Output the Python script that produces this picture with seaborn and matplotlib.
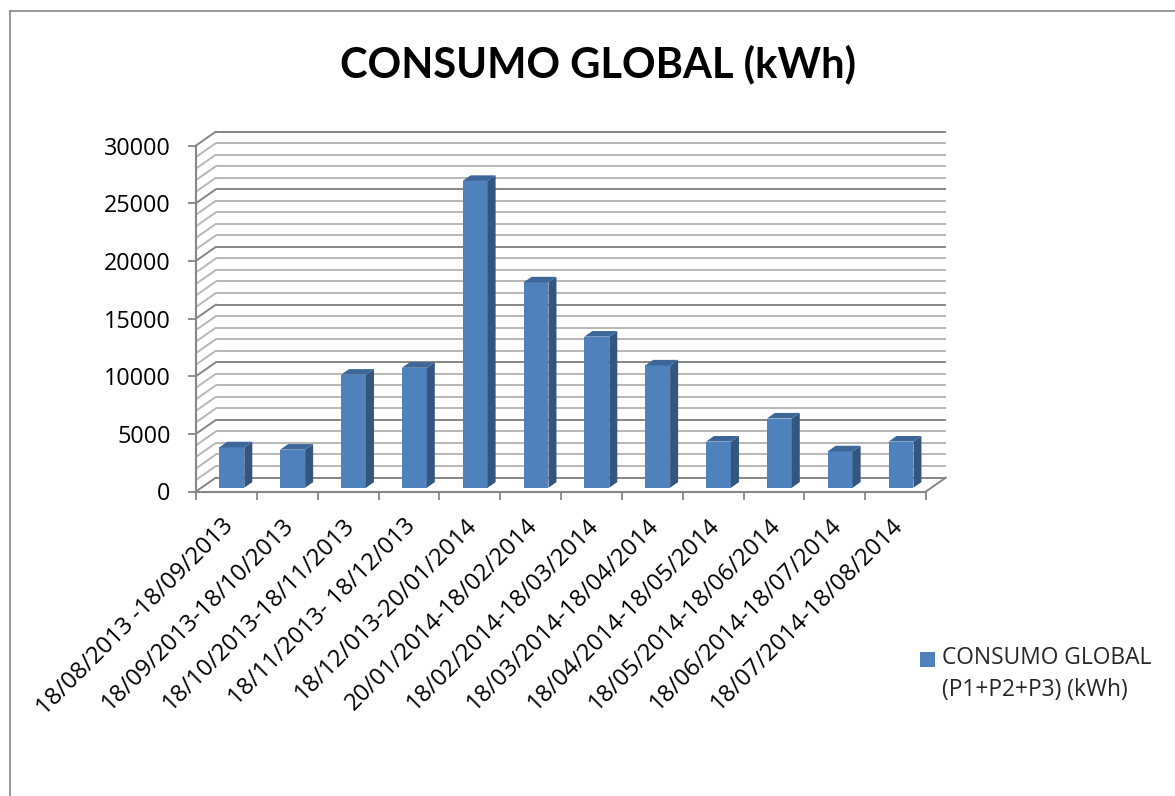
import numpy as np
import pandas as pd
import matplotlib
matplotlib.use("Agg")
import matplotlib.pyplot as plt
import matplotlib.transforms as mtrans
from matplotlib.patches import Polygon
from matplotlib.lines import Line2D
import seaborn as sns

# ---------------- data ----------------
periods = [
    "18/08/2013 -18/09/2013",
    "18/09/2013-18/10/2013",
    "18/10/2013-18/11/2013",
    "18/11/2013- 18/12/013",
    "18/12/013-20/01/2014",
    "20/01/2014-18/02/2014",
    "18/02/2014-18/03/2014",
    "18/03/2014-18/04/2014",
    "18/04/2014-18/05/2014",
    "18/05/2014-18/06/2014",
    "18/06/2014-18/07/2014",
    "18/07/2014-18/08/2014",
]
consumo = [3500, 3300, 9800, 10400, 26600, 17800, 13100, 10600, 4000, 6000, 3150, 4000]
y_ticks = [0, 5000, 10000, 15000, 20000, 25000, 30000]
y_minor_step = 1000
title = "CONSUMO GLOBAL (kWh)"
series_label = "CONSUMO GLOBAL\n(P1+P2+P3) (kWh)"

df = pd.DataFrame({"periodo": periods, "kwh": consumo})

# ---------------- style ----------------
sns.set_style("white")
plt.rcParams["font.family"] = ["Open Sans", "DejaVu Sans"]

W, H = 1175, 796
DPI = 100
fig = plt.figure(figsize=(W / DPI, H / DPI), dpi=DPI)
fig.patch.set_facecolor("white")

# front plane of the 3-D box (pixels)
L_px, R_px, T_px, B_px = 196, 926, 145.5, 491.5
ax = fig.add_axes([L_px / W, 1 - B_px / H, (R_px - L_px) / W, (B_px - T_px) / H])

FRONT = "#4F81BD"
SIDE = "#34557E"
TOP = "#3D6699"
AXIS_C = "#868686"
MINOR_C = "#B8B8B8"

sns.barplot(data=df, x="periodo", y="kwh", color=FRONT, width=0.41,
            saturation=1, ax=ax, label=series_label, zorder=3)

n = len(periods)
ymax = y_ticks[-1]
ax.set_xlim(-0.5, n - 0.5)
ax.set_ylim(0, ymax)

# depth offset in data units (box depth ~ 20px right, 14px up)
px_x = (R_px - L_px) / n
px_y = (B_px - T_px) / ymax
DXd = 20 / px_x
DYd = 14 / px_y
f0, f1 = 0.27, 0.67  # bar front / back depth fraction

# back wall + left wall gridlines
for v in range(0, ymax + 1, y_minor_step):
    major = v % 5000 == 0
    c = AXIS_C if major else MINOR_C
    lw = 1.4
    ax.plot([-0.5 + DXd, n - 0.5 + DXd], [v + DYd, v + DYd], color=c, lw=lw,
            clip_on=False, zorder=1, solid_capstyle="butt")
    ax.plot([-0.5, -0.5 + DXd], [v, v + DYd], color=c, lw=lw,
            clip_on=False, zorder=1)
# floor right edge
ax.plot([n - 0.5, n - 0.5 + DXd], [0, DYd], color=AXIS_C, lw=1.4, clip_on=False, zorder=1)

# 3-D bars: shift the front faces to their depth, add side and top faces
shift = mtrans.Affine2D().translate(f0 * DXd, f0 * DYd) + ax.transData
ddx, ddy = (f1 - f0) * DXd, (f1 - f0) * DYd
for p in list(ax.patches):
    x0, w, h = p.get_x(), p.get_width(), p.get_height()
    p.set_transform(shift)
    p.set_clip_on(False)
    p.set_edgecolor("none")
    side = Polygon([(x0 + w, 0), (x0 + w + ddx, ddy), (x0 + w + ddx, h + ddy), (x0 + w, h)],
                   closed=True, facecolor=SIDE, edgecolor="none", transform=shift,
                   clip_on=False, zorder=3)
    top = Polygon([(x0, h), (x0 + w, h), (x0 + w + ddx, h + ddy), (x0 + ddx, h + ddy)],
                  closed=True, facecolor=TOP, edgecolor="none", transform=shift,
                  clip_on=False, zorder=3)
    ax.add_patch(side)
    ax.add_patch(top)

# axes
for s in ["top", "right"]:
    ax.spines[s].set_visible(False)
for s in ["left", "bottom"]:
    ax.spines[s].set_color(AXIS_C)
    ax.spines[s].set_linewidth(1.5)
    ax.spines[s].set_zorder(2)

ax.set_yticks(y_ticks)
ax.set_yticklabels([str(t) for t in y_ticks])
ax.tick_params(axis="y", which="major", length=5.8, width=1.3, color=AXIS_C,
               direction="out", pad=12.5, labelsize=16.8, labelcolor="black", left=True)

ax.set_xticks(range(n))
ax.set_xticklabels(periods, rotation=45, ha="right", va="top", rotation_mode="anchor")
ax.set_xticks(np.arange(-0.5, n, 1.0), minor=True)
ax.tick_params(axis="x", which="major", length=0, pad=16, labelsize=17.2, labelcolor="black")
ax.tick_params(axis="x", which="minor", length=5.8, width=1.3, color=AXIS_C,
               direction="out", bottom=True)
lbl_off = mtrans.ScaledTranslation(-5 / DPI, 0, fig.dpi_scale_trans)
for t in ax.get_xticklabels():
    t.set_transform(t.get_transform() + lbl_off)
ax.set_xlabel("")
ax.set_ylabel("")
ax.set_facecolor("none")
ax.grid(False)

# legend
leg = ax.legend(loc="upper left", bbox_to_anchor=(920 / W, 1 - 646 / H),
                bbox_transform=fig.transFigure, frameon=False, fontsize=16.4,
                handlelength=0.66, handleheight=0.66, handletextpad=0.3,
                borderpad=0, borderaxespad=0)
for t in leg.get_texts():
    t.set_linespacing(1.45)
# align the swatch with the first line of the label
hnd = leg.legend_handles[0]
hnd.set_y(hnd.get_y() + 11.0)

# title
fig.text(598 / W, 1 - 64 / H, title, ha="center", va="center",
         fontsize=30, fontweight="bold", color="black", family=["Lato", "DejaVu Sans"])

# chart area border (left and top visible)
fig.add_artist(Line2D([10 / W, 10 / W], [0, 1 - 11 / H], transform=fig.transFigure,
                      color=AXIS_C, lw=1.2))
fig.add_artist(Line2D([10 / W, 1], [1 - 11 / H, 1 - 11 / H], transform=fig.transFigure,
                      color=AXIS_C, lw=1.2))

fig.savefig("out.png", dpi=DPI, facecolor="white")
